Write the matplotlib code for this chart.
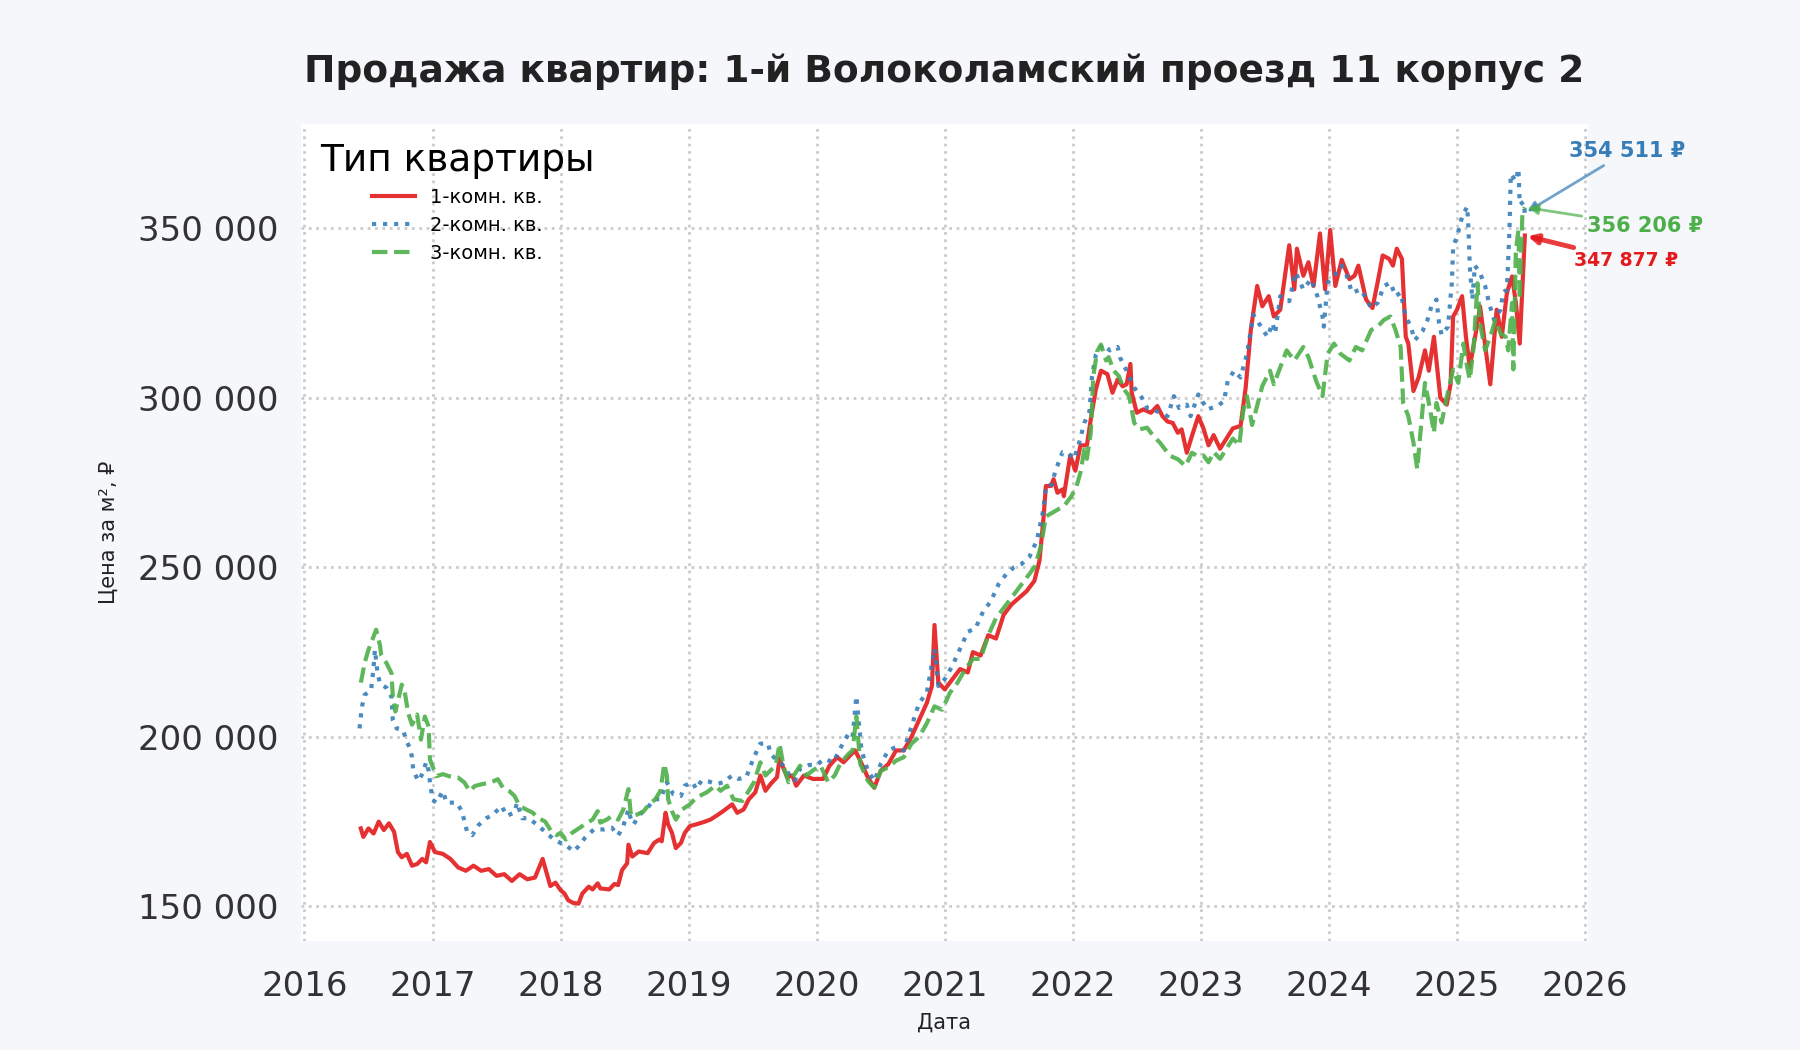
import matplotlib
matplotlib.use("Agg")
import matplotlib.pyplot as plt
from matplotlib.ticker import FuncFormatter, MultipleLocator

# decimal year / price per m2
red_x = [2016.44, 2016.46, 2016.50, 2016.54, 2016.58, 2016.62, 2016.66, 2016.70, 2016.73, 2016.76,
         2016.80, 2016.84, 2016.88, 2016.92, 2016.95, 2016.98, 2017.02, 2017.08, 2017.14, 2017.20,
         2017.26, 2017.32, 2017.38, 2017.44, 2017.50, 2017.56, 2017.62, 2017.68, 2017.74, 2017.80,
         2017.86, 2017.92, 2017.96,
         2018.00, 2018.03, 2018.06, 2018.10, 2018.14, 2018.17, 2018.22, 2018.25, 2018.29, 2018.31,
         2018.38, 2018.42, 2018.45, 2018.48, 2018.52, 2018.53, 2018.56, 2018.61, 2018.68, 2018.73,
         2018.77, 2018.79, 2018.82, 2018.84, 2018.87, 2018.90, 2018.94, 2018.97, 2019.01, 2019.06,
         2019.12, 2019.17, 2019.22, 2019.27, 2019.34, 2019.38, 2019.43, 2019.47, 2019.52, 2019.56,
         2019.60, 2019.64, 2019.69, 2019.71, 2019.77, 2019.81, 2019.84, 2019.90, 2019.97, 2020.05,
         2020.10, 2020.16, 2020.21, 2020.26,
         2020.30, 2020.34, 2020.40, 2020.45, 2020.50, 2020.56, 2020.62, 2020.68, 2020.74, 2020.80,
         2020.86, 2020.90, 2020.92, 2020.95, 2021.00, 2021.06, 2021.12, 2021.18, 2021.22, 2021.28,
         2021.34, 2021.40, 2021.46, 2021.52, 2021.58, 2021.64, 2021.70, 2021.74,
         2021.77, 2021.79, 2021.83, 2021.85, 2021.88, 2021.92, 2021.93, 2021.98, 2022.02, 2022.06,
         2022.11, 2022.14, 2022.18, 2022.22, 2022.27, 2022.31, 2022.35, 2022.39, 2022.42, 2022.45,
         2022.46, 2022.50, 2022.55, 2022.61, 2022.66, 2022.70, 2022.74, 2022.78, 2022.82, 2022.85,
         2022.89, 2022.93, 2022.98, 2023.02, 2023.06, 2023.10, 2023.15, 2023.20, 2023.25, 2023.31,
         2023.35, 2023.39, 2023.44, 2023.48, 2023.53, 2023.57, 2023.62, 2023.69, 2023.73, 2023.75,
         2023.80, 2023.84, 2023.88, 2023.93, 2023.97, 2024.01, 2024.05, 2024.10, 2024.16, 2024.20,
         2024.23, 2024.29, 2024.34, 2024.38, 2024.42, 2024.47, 2024.50, 2024.53,
         2024.57, 2024.60, 2024.62, 2024.66, 2024.70, 2024.75, 2024.78, 2024.82, 2024.87, 2024.92,
         2024.95, 2024.97, 2025.00, 2025.04, 2025.07, 2025.10, 2025.16, 2025.18, 2025.26, 2025.31,
         2025.35, 2025.39, 2025.43, 2025.46, 2025.49, 2025.51, 2025.53]
red_y = [173000, 170500, 173000, 171500, 175000, 172500, 174500, 172000, 166000, 164500,
         165500, 162000, 162500, 164000, 163000, 169000, 166000, 165500, 164000, 161500,
         160500, 162000, 160500, 161000, 159000, 159500, 157500, 159500, 158000, 158500,
         164000, 156000, 157000,
         154800, 153800, 151800, 151000, 150800, 153800, 155800, 155000, 156800, 155300,
         155000, 156600, 156300, 160700, 162700, 168200, 164700, 166200, 165700, 168700,
         169700, 169200, 177600, 174200, 171700, 167200, 168700, 171700, 173700, 174200,
         174900, 175600, 176800, 178100, 180100, 177600, 178600, 181600, 183600, 188600,
         184100, 186100, 188100, 193500, 188100, 188600, 185600, 188600, 187600, 187600,
         191500, 194000, 192500, 194500,
         196000, 193000, 188000, 185000, 190000, 192000, 196000, 196000, 200000, 205000,
         210000, 215000, 233000, 216000, 214000, 217000, 220000, 219000, 225000, 224000,
         230000, 229000, 236000, 239000, 241000, 243000, 246000, 252000,
         264000, 274000, 274000, 276000, 272000, 273000, 271000, 283000, 278500, 286000,
         286000, 293600, 302500, 308000, 307000, 301500, 305400, 303400, 304000, 310000,
         301500, 295600, 296600, 295600, 297600, 294600, 293000, 292600, 289700, 290700,
         283800, 288700, 294600, 291000, 286000, 289000, 285000, 288000, 291000, 291700,
         303000, 320000, 333000, 327000, 330000, 324000, 326000, 345000, 332000, 344000,
         336000, 340000, 333000, 348500, 332000, 349500, 333000, 340700, 335000, 336000,
         339000, 329000, 326500, 334000, 342000, 341000, 339000, 344000,
         341000, 318000, 316000, 302000, 306000, 314000, 308000, 318000, 300000, 298000,
         304000, 324000, 326000, 330000, 318000, 309000, 322000, 327000, 304000, 326000,
         318000, 331000, 335800, 328000, 316000, 332000, 347877]

blue_x = [2016.43, 2016.44, 2016.45, 2016.47, 2016.52, 2016.53, 2016.54, 2016.55, 2016.56, 2016.57,
          2016.59, 2016.64, 2016.68, 2016.69, 2016.72, 2016.77, 2016.80, 2016.82, 2016.84, 2016.85,
          2016.89, 2016.93, 2016.95, 2016.97, 2016.98, 2017.00, 2017.03, 2017.08, 2017.11, 2017.19,
          2017.23, 2017.27, 2017.31, 2017.36, 2017.42, 2017.47, 2017.54, 2017.58, 2017.64, 2017.66,
          2017.70, 2017.75, 2017.82, 2017.88, 2017.94,
          2018.00, 2018.04, 2018.10, 2018.14, 2018.19, 2018.26, 2018.34, 2018.40, 2018.45, 2018.49,
          2018.53, 2018.55, 2018.57, 2018.62, 2018.68, 2018.73, 2018.78, 2018.83, 2018.88, 2018.94,
          2018.97, 2019.03, 2019.06, 2019.10, 2019.16, 2019.22, 2019.27, 2019.34, 2019.39, 2019.45,
          2019.51, 2019.56, 2019.62, 2019.64, 2019.69, 2019.74, 2019.79, 2019.83, 2019.87, 2019.94,
          2020.00, 2020.06, 2020.13, 2020.21, 2020.25, 2020.28,
          2020.31, 2020.35, 2020.40, 2020.45, 2020.50, 2020.56, 2020.62, 2020.68, 2020.74, 2020.80,
          2020.86, 2020.92, 2020.95, 2021.00, 2021.06, 2021.12, 2021.18, 2021.24, 2021.30, 2021.36,
          2021.42, 2021.48, 2021.54, 2021.60, 2021.66, 2021.72,
          2021.77, 2021.79, 2021.84, 2021.86, 2021.92, 2021.96, 2022.01, 2022.05, 2022.09, 2022.13,
          2022.15, 2022.18, 2022.23, 2022.29, 2022.35, 2022.37, 2022.42, 2022.48, 2022.54, 2022.58,
          2022.66, 2022.74, 2022.79, 2022.83, 2022.89, 2022.92, 2022.98, 2023.05, 2023.13, 2023.18,
          2023.21, 2023.26, 2023.31, 2023.36, 2023.41, 2023.47, 2023.52, 2023.56, 2023.58, 2023.62,
          2023.69, 2023.74, 2023.80, 2023.86, 2023.91, 2023.95, 2023.96, 2023.99, 2024.04, 2024.10,
          2024.14, 2024.18, 2024.25, 2024.33, 2024.38, 2024.43, 2024.48, 2024.52,
          2024.56, 2024.60, 2024.64, 2024.67, 2024.73, 2024.77, 2024.80, 2024.84, 2024.86, 2024.88,
          2024.93, 2024.96, 2024.97, 2025.00, 2025.04, 2025.08, 2025.09, 2025.10, 2025.12, 2025.14,
          2025.18, 2025.22, 2025.25, 2025.29, 2025.34, 2025.36, 2025.39, 2025.41, 2025.42, 2025.46,
          2025.48, 2025.49, 2025.52, 2025.53]
blue_y = [202500, 206000, 209000, 212400, 213700, 217000, 220600, 225700, 222500, 219000,
          215700, 214500, 211800, 205000, 202500, 202000, 198500, 197000, 194000, 190000,
          187000, 189700, 192600, 190000, 186800, 181400, 180600, 184000, 180600, 180600,
          178000, 172000, 171000, 174000, 176000, 177000, 179600, 176700, 177700, 180600,
          176000, 176000, 174000, 172000, 170000,
          168700, 168200, 166200, 167700, 170200, 172700, 172700, 173200, 170900, 173700,
          178600, 175600, 174200, 177100, 179100, 181600, 181600, 186600, 183100, 182600,
          185600, 186600, 184600, 187100, 186800, 186100, 186600, 188600, 187600, 188100,
          194000, 198000, 198000, 195000, 193000, 191500, 188600, 187100, 190600, 191700,
          191700, 193500, 192500, 198500, 201000, 200000,
          212000, 196000, 190000, 187000, 192000, 196000, 197000, 196000, 203000, 210000,
          213000, 226000, 215000, 217000, 221000, 226000, 231000, 232000, 237000, 240000,
          245000, 248000, 250000, 251000, 253000, 258000,
          267000, 274000, 274500, 278000, 284000, 283800, 282000, 286800, 292600, 296000,
          306400, 312700, 315700, 314000, 315000, 311800, 308000, 303000, 300000, 297000,
          296000, 294600, 300500, 297000, 298000, 294600, 301000, 296600, 297600, 299000,
          305000, 308000, 306000, 313000, 324500, 321000, 318000, 322000, 319000, 330000,
          328500, 337000, 332000, 335000, 330000, 324000, 321000, 334000, 336000, 339000,
          336000, 331000, 332000, 326500, 328000, 333000, 334000, 330000,
          331000, 324000, 321000, 317000, 319600, 323000, 327000, 329000, 322000, 318600,
          321000, 334000, 344600, 347500, 353400, 356400, 349500, 338700, 329000, 339000,
          336800, 333000, 328000, 323000, 326000, 331000, 332000, 349500, 366000, 364000,
          367600, 357000, 357800, 354511]

green_x = [2016.44, 2016.45, 2016.47, 2016.50, 2016.54, 2016.56, 2016.59, 2016.60, 2016.64, 2016.68,
           2016.69, 2016.71, 2016.76, 2016.78, 2016.81, 2016.84, 2016.88, 2016.91, 2016.94, 2016.97,
           2016.98, 2017.01, 2017.03, 2017.08, 2017.13, 2017.20, 2017.25, 2017.29, 2017.33, 2017.38,
           2017.45, 2017.51, 2017.55, 2017.60, 2017.64, 2017.68, 2017.73, 2017.78, 2017.83, 2017.88,
           2017.93, 2017.97,
           2018.00, 2018.04, 2018.09, 2018.13, 2018.19, 2018.25, 2018.29, 2018.31, 2018.36, 2018.40,
           2018.45, 2018.49, 2018.53, 2018.55, 2018.60, 2018.65, 2018.69, 2018.74, 2018.78, 2018.81,
           2018.83, 2018.84, 2018.87, 2018.90, 2018.95, 2019.01, 2019.06, 2019.14, 2019.21, 2019.25,
           2019.30, 2019.35, 2019.42, 2019.47, 2019.51, 2019.56, 2019.60, 2019.64, 2019.68, 2019.71,
           2019.74, 2019.78, 2019.83, 2019.87, 2019.92, 2019.97, 2020.03, 2020.09, 2020.14, 2020.19,
           2020.25, 2020.28,
           2020.31, 2020.34, 2020.40, 2020.45, 2020.50, 2020.56, 2020.62, 2020.68, 2020.74, 2020.80,
           2020.86, 2020.92, 2020.98, 2021.04, 2021.10, 2021.16, 2021.22, 2021.28, 2021.34, 2021.40,
           2021.46, 2021.52, 2021.58, 2021.64, 2021.70, 2021.75,
           2021.79, 2021.88, 2021.93, 2021.99, 2022.03, 2022.06, 2022.09, 2022.11, 2022.14, 2022.16,
           2022.19, 2022.22, 2022.26, 2022.28, 2022.32, 2022.36, 2022.40, 2022.44, 2022.48, 2022.52,
           2022.58, 2022.63, 2022.68, 2022.72, 2022.76, 2022.82, 2022.88, 2022.93, 2022.97, 2023.02,
           2023.06, 2023.10, 2023.15, 2023.20, 2023.25, 2023.30, 2023.33, 2023.36, 2023.40, 2023.48,
           2023.54, 2023.57, 2023.67, 2023.73, 2023.80, 2023.84, 2023.90, 2023.95, 2023.99, 2024.04,
           2024.09, 2024.16, 2024.21, 2024.26, 2024.33, 2024.38, 2024.43, 2024.48, 2024.52,
           2024.56, 2024.58, 2024.62, 2024.66, 2024.69, 2024.71, 2024.75, 2024.79, 2024.82, 2024.84,
           2024.88, 2024.92, 2024.97, 2025.01, 2025.05, 2025.08, 2025.10, 2025.13, 2025.16, 2025.18,
           2025.22, 2025.26, 2025.30, 2025.34, 2025.38, 2025.40, 2025.43, 2025.44, 2025.46, 2025.48,
           2025.49, 2025.51, 2025.52, 2025.53]
green_y = [216000, 217800, 221800, 225700, 229600, 231600, 227000, 224000, 221800, 218800,
           212000, 207500, 215400, 214000, 207000, 203600, 206600, 199200, 206000, 203000,
           193300, 190400, 188400, 189000, 188400, 188000, 186500, 184000, 185500, 186000,
           186500, 187500, 185000, 184000, 182600, 179600, 178600, 177700, 176000, 175000,
           172000, 171000,
           171700, 169700, 171700, 172700, 174200, 175600, 178100, 174700, 175600, 176600,
           175600, 178600, 184600, 176600, 177100, 178100, 180100, 181600, 184100, 192000,
           188600, 181600, 178100, 175600, 178600, 180100, 182100, 183600, 185600, 184100,
           185600, 181600, 181100, 184100, 186600, 192500, 188600, 190100, 191500, 198000,
           191500, 186600, 189100, 191500, 188600, 190100, 191500, 186600, 188600, 192500,
           195000, 196000,
           206000, 192000, 187000, 185000, 190000, 191000, 193000, 194000, 198000, 200000,
           204000, 209000, 208000, 213000, 216000, 220000, 223000, 223000, 230000, 235000,
           238000, 241000, 244000, 247000, 250000, 256000,
           265000, 267000, 268000, 271000, 274000, 278000, 284800, 282000, 289700, 306400,
           313700, 315700, 311000, 312000, 308000, 306400, 302500, 300500, 292600, 290700,
           291200, 288700, 286800, 284800, 282900, 281900, 279900, 283800, 282900, 283000,
           281000, 284000, 282000, 285000, 288000, 286000, 296000, 300500, 292000, 303500,
           308000, 304000, 314000, 311000, 315000, 312000, 305000, 300500, 313000, 316000,
           313000, 311000, 315000, 314000, 320000, 321000, 323000, 324000, 320000,
           315000, 298500, 294600, 286800, 279000, 287800, 304400, 296600, 289700, 298500,
           292700, 300000, 308400, 304400, 316000, 309000, 305400, 315000, 333800, 322000,
           314000, 318000, 323000, 319000, 318000, 314000, 328000, 308400, 343600, 349500,
           329000, 353400, 355400, 356206]

series = [
    ("1-комн. кв.", red_x, red_y, "#e41a1c", "-"),
    ("2-комн. кв.", blue_x, blue_y, "#377eb8", ":"),
    ("3-комн. кв.", green_x, green_y, "#4daf4a", "--"),
]

fig = plt.figure(figsize=(18, 10.5), dpi=100, facecolor="#f5f7fa")
ax = fig.add_axes([0.167, 0.104, 0.715, 0.778])
ax.set_facecolor("white")

for name, xs, ys, col, ls in series:
    ax.plot(xs, ys, color=col, linestyle=ls, linewidth=3, alpha=0.9, label=name)

ax.set_xlim(2015.97, 2026.02)
ax.set_ylim(139850, 380800)
ax.xaxis.set_major_locator(MultipleLocator(1))
ax.xaxis.set_major_formatter(FuncFormatter(lambda v, p: f"{int(round(v))}"))
ax.yaxis.set_major_locator(MultipleLocator(50000))
ax.yaxis.set_major_formatter(FuncFormatter(lambda v, p: f"{int(v):,}".replace(",", " ")))
ax.tick_params(axis="both", labelsize=24.5, length=0, colors="#333333")
ax.tick_params(axis="x", pad=21)
ax.tick_params(axis="y", pad=16)
ax.grid(True, linestyle=":", color="#cccccc", linewidth=2)
for s in ax.spines.values():
    s.set_visible(False)

ax.set_title("Продажа квартир: 1-й Волоколамский проезд 11 корпус 2",
             fontsize=27, fontweight="bold", color="#222222", pad=30)
ax.set_xlabel("Дата", fontsize=15, color="#222222", labelpad=7)
ax.set_ylabel("Цена за м², ₽", fontsize=15, color="#222222", labelpad=14)

leg = ax.legend(title="Тип квартиры", loc="upper left", frameon=False,
                fontsize=14, title_fontsize=27, handlelength=2.2,
                labelspacing=0.45, borderaxespad=0.6)

# last-value labels
ax.annotate("354 511 ₽", xy=(blue_x[-1], blue_y[-1]), xytext=(2026.33, 372700),
            color="#377eb8", fontsize=15, fontweight="bold", ha="center", va="center",
            annotation_clip=False,
            arrowprops=dict(arrowstyle="-|>", color="#377eb8", lw=2, alpha=0.7))
ax.annotate("356 206 ₽", xy=(green_x[-1], green_y[-1]), xytext=(2026.47, 350700),
            color="#4daf4a", fontsize=15, fontweight="bold", ha="center", va="center",
            annotation_clip=False,
            arrowprops=dict(arrowstyle="-|>", color="#4daf4a", lw=2, alpha=0.7))
ax.annotate("347 877 ₽", xy=(red_x[-1], red_y[-1]), xytext=(2026.32, 340500),
            color="#e41a1c", fontsize=13.5, fontweight="bold", ha="center", va="center",
            annotation_clip=False,
            arrowprops=dict(arrowstyle="-|>", color="#e41a1c", lw=3.5, alpha=0.85))

fig.savefig("out.png", dpi=100, facecolor=fig.get_facecolor())
